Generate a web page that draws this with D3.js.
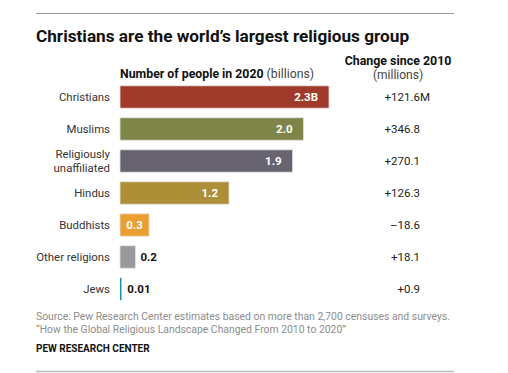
<!DOCTYPE html>
<html><head><meta charset="utf-8">
<script src="https://cdn.jsdelivr.net/npm/d3@7"></script>
<style>
body{margin:0;background:#fff;}
text{font-family:Roboto,"Liberation Sans",Arial,sans-serif;}
</style></head>
<body><svg id="c" width="508" height="373"></svg>
<script>
const categories = ["Christians","Muslims","Religiously\nunaffiliated","Hindus","Buddhists","Other religions","Jews"];
const values2020 = [2.3, 2.02, 1.9, 1.2, 0.32, 0.17, 0.015];
const valueLabels = ["2.3B","2.0","1.9","1.2","0.3","0.2","0.01"];
const changeLabels = ["+121.6","+346.8","+270.1","+126.3","\u201318.6","+18.1","+0.9"];
const colors = ["#a03b2c","#7f8449","#67636f","#ad8f37","#eb9f30","#98989c","#1f8fb0"];

const svg = d3.select("#c");
const x = d3.scaleLinear().domain([0, 2.3]).range([120, 329]);
const y = d3.scaleBand().domain(categories).range([81, 305]).paddingInner(0.3).paddingOuter(0.15);

// rules
svg.append("line").attr("x1",36).attr("x2",454).attr("y1",13.5).attr("y2",13.5).attr("stroke","#999").attr("stroke-width",1);
svg.append("line").attr("x1",36).attr("x2",454).attr("y1",371.5).attr("y2",371.5).attr("stroke","#bbb").attr("stroke-width",1.5);

svg.append("text").attr("x",36).attr("y",42).attr("font-size",17.2).attr("font-weight",700).attr("fill","#111")
  .text("Christians are the world\u2019s largest religious group");

const h = svg.append("text").attr("x",120).attr("y",78).attr("font-size",12.3).attr("fill","#111");
h.append("tspan").attr("font-weight",700).text("Number of people in 2020 ");
h.append("tspan").attr("fill","#444").text("(billions)");

svg.append("text").attr("x",398).attr("y",64.5).attr("text-anchor","middle").attr("font-size",12.4).attr("font-weight",700).attr("fill","#111").text("Change since 2010");
svg.append("text").attr("x",398).attr("y",79).attr("text-anchor","middle").attr("font-size",12).attr("fill","#444").text("(millions)");

const rows = svg.selectAll("g.row").data(categories).join("g").attr("class","row");

rows.append("rect")
  .attr("x", x(0))
  .attr("y", d => y(d))
  .attr("height", y.bandwidth())
  .attr("width", (d,i) => Math.max(1.5, x(values2020[i]) - x(0)))
  .attr("fill", (d,i) => colors[i])
  .attr("stroke", (d,i) => i===6 ? "none" : "#e4e4e4")
  .attr("stroke-width", 0.8);

// category labels
rows.each(function(d,i){
  const lines = d.split("\n");
  const cy = y(d) + y.bandwidth()/2;
  const t = d3.select(this).append("text").attr("x",110).attr("text-anchor","end").attr("font-size",11.4).attr("fill","#333");
  lines.forEach((l,j)=>{
    t.append("tspan").attr("x",110).attr("y", cy + 4 + (j - (lines.length-1)/2)*14.5).text(l);
  });
});

// value labels
rows.append("text")
  .attr("y", d => y(d) + y.bandwidth()/2 + 4)
  .attr("x", (d,i) => {
    const w = x(values2020[i]) - x(0);
    if (i < 4) return x(values2020[i]) - 11;
    if (i === 4) return x(0) + w/2;
    return x(values2020[i]) + (i===6 ? 6 : 5);
  })
  .attr("text-anchor", (d,i) => i < 4 ? "end" : (i===4 ? "middle" : "start"))
  .attr("font-size", 11.5).attr("font-weight",700)
  .attr("fill", (d,i) => i < 5 ? "#fff" : "#111")
  .text((d,i) => valueLabels[i]);

// change column
rows.append("text")
  .attr("x", 420).attr("y", d => y(d) + y.bandwidth()/2 + 4)
  .attr("text-anchor","end").attr("font-size",11.5).attr("fill","#222")
  .text((d,i) => changeLabels[i]);
svg.append("text").attr("x",420).attr("y", y(categories[0]) + y.bandwidth()/2 + 4)
  .attr("font-size",11.5).attr("fill","#222").text("M");

svg.append("text").attr("x",36).attr("y",320).attr("font-size",10.4).attr("fill","#8c8c8c")
  .text("Source: Pew Research Center estimates based on more than 2,700 censuses and surveys.");
svg.append("text").attr("x",36).attr("y",333).attr("font-size",10.4).attr("fill","#8c8c8c")
  .text("\u201cHow the Global Religious Landscape Changed From 2010 to 2020\u201d");
svg.append("text").attr("x",36).attr("y",352).attr("font-size",10).attr("font-weight",700).attr("fill","#111")
  .text("PEW RESEARCH CENTER");
</script></body></html>
